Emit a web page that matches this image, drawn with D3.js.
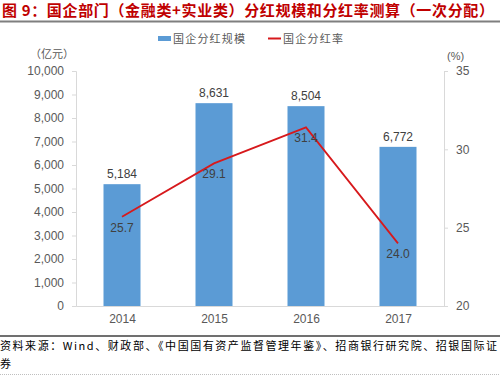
<!DOCTYPE html>
<html>
<head>
<meta charset="utf-8">
<script src="https://cdn.jsdelivr.net/npm/d3@7"></script>
<style>
  body { margin: 0; background: #fff; }
  text { font-family: "Liberation Sans", Arial, "Noto Sans CJK SC", sans-serif; }
</style>
</head>
<body>
<div id="chart"></div>
<script>
const years = ["2014", "2015", "2016", "2017"];
const dividendScale = [5184, 8631, 8504, 6772];
const dividendRate = [25.7, 29.1, 31.4, 24.0];
const leftTicks = [0, 1000, 2000, 3000, 4000, 5000, 6000, 7000, 8000, 9000, 10000];
const rightTicks = [20, 25, 30, 35];

const W = 500, H = 376;
const plot = {left: 76, right: 444, top: 71, bottom: 306};

const svg = d3.select("#chart").append("svg")
    .attr("width", W).attr("height", H);

// 标题
svg.append("text")
    .attr("x", 2).attr("y", 16)
    .attr("font-size", "15px").attr("font-weight", "bold")
    .attr("fill", "#c00000")
    .attr("textLength", 492).attr("lengthAdjust", "spacing")
    .style("font-family", "'Noto Sans CJK SC', sans-serif")
    .text("图 9：国企部门（金融类+实业类）分红规模和分红率测算（一次分配）");

svg.append("line")
    .attr("x1", 0).attr("x2", W).attr("y1", 21.5).attr("y2", 21.5)
    .attr("stroke", "#7f7f7f").attr("stroke-width", 2);

const xc = d3.scalePoint().domain(years).range([plot.left, plot.right]).padding(0.5);
const yL = d3.scaleLinear().domain([0, 10000]).range([plot.bottom, plot.top]);
const yR = d3.scaleLinear().domain([20, 35]).range([plot.bottom, plot.top]);

// 左轴
const axL = svg.append("g")
    .attr("transform", `translate(${plot.left},0)`)
    .call(d3.axisLeft(yL).tickValues(leftTicks).tickSize(4).tickPadding(8).tickFormat(d3.format(",")));
axL.select(".domain").attr("stroke", "#d9d9d9");
axL.selectAll(".tick line").attr("stroke", "#d9d9d9");
axL.selectAll("text").attr("fill", "#595959").attr("font-size", "12px");

// 右轴
const axR = svg.append("g")
    .attr("transform", `translate(${plot.right},0)`)
    .call(d3.axisRight(yR).tickValues(rightTicks).tickSize(4).tickPadding(8));
axR.select(".domain").attr("stroke", "#d9d9d9");
axR.selectAll(".tick line").attr("stroke", "#d9d9d9");
axR.selectAll("text").attr("fill", "#595959").attr("font-size", "12px");

// X轴
const axX = svg.append("g")
    .attr("transform", `translate(0,${plot.bottom})`)
    .call(d3.axisBottom(xc).tickSize(0).tickPadding(8));
axX.select(".domain").attr("stroke", "#d9d9d9");
axX.selectAll("text").attr("fill", "#595959").attr("font-size", "12px");

// 柱子
svg.selectAll(".bar")
    .data(years)
    .enter().append("rect")
    .attr("class", "bar")
    .attr("x", d => xc(d) - 18.5)
    .attr("width", 37)
    .attr("y", (d, i) => yL(dividendScale[i]))
    .attr("height", (d, i) => plot.bottom - yL(dividendScale[i]))
    .attr("fill", "#5b9bd5");

svg.selectAll(".bar-label")
    .data(years)
    .enter().append("text")
    .attr("x", d => xc(d))
    .attr("y", (d, i) => yL(dividendScale[i]) - 6)
    .attr("text-anchor", "middle")
    .attr("font-size", "12px").attr("fill", "#404040")
    .text((d, i) => d3.format(",")(dividendScale[i]));

// 分红率折线
const line = d3.line()
    .x(d => xc(d.year))
    .y(d => yR(d.rate));
const rateData = years.map((y, i) => ({year: y, rate: dividendRate[i]}));

svg.append("path")
    .datum(rateData)
    .attr("d", line)
    .attr("fill", "none")
    .attr("stroke", "#d7191c")
    .attr("stroke-width", 1.8);

svg.selectAll(".rate-label")
    .data(rateData)
    .enter().append("text")
    .attr("x", d => xc(d.year))
    .attr("y", d => yR(d.rate) + 15)
    .attr("text-anchor", "middle")
    .attr("font-size", "12px").attr("fill", "#404040")
    .text(d => d.rate.toFixed(1));

// 图例
svg.append("rect").attr("x", 158).attr("y", 36).attr("width", 13).attr("height", 5).attr("fill", "#5b9bd5");
svg.append("text").attr("x", 173).attr("y", 43).attr("font-size", "11px").attr("fill", "#595959")
    .attr("textLength", 72).attr("lengthAdjust", "spacing")
    .style("font-family", "'Noto Sans CJK SC', sans-serif").text("国企分红规模");
svg.append("line").attr("x1", 268).attr("x2", 281).attr("y1", 38.5).attr("y2", 38.5)
    .attr("stroke", "#d7191c").attr("stroke-width", 2);
svg.append("text").attr("x", 283).attr("y", 43).attr("font-size", "11px").attr("fill", "#595959")
    .attr("textLength", 60).attr("lengthAdjust", "spacing")
    .style("font-family", "'Noto Sans CJK SC', sans-serif").text("国企分红率");

// 单位
svg.append("text").attr("x", 30).attr("y", 58).attr("font-size", "11px").attr("fill", "#595959")
    .style("font-family", "'Noto Sans CJK SC', sans-serif").text("（亿元）");
svg.append("text").attr("x", 447).attr("y", 60).attr("font-size", "11px").attr("fill", "#595959").text("(%)");

// 资料来源
svg.append("line")
    .attr("x1", 0).attr("x2", W).attr("y1", 336).attr("y2", 336)
    .attr("stroke", "#404040").attr("stroke-width", 1.5);
svg.append("text").attr("x", 0).attr("y", 350).attr("font-size", "11px").attr("fill", "#000")
    .attr("textLength", 497).attr("lengthAdjust", "spacing")
    .style("font-family", "'Noto Sans CJK SC', sans-serif")
    .text("资料来源：Wind、财政部、《中国国有资产监督管理年鉴》、招商银行研究院、招银国际证");
svg.append("text").attr("x", 0).attr("y", 368).attr("font-size", "11px").attr("fill", "#000")
    .style("font-family", "'Noto Sans CJK SC', sans-serif")
    .text("券");
svg.append("line")
    .attr("x1", 0).attr("x2", W).attr("y1", 374.5).attr("y2", 374.5)
    .attr("stroke", "#bfbfbf").attr("stroke-dasharray", "1,1");
</script>
</body>
</html>
